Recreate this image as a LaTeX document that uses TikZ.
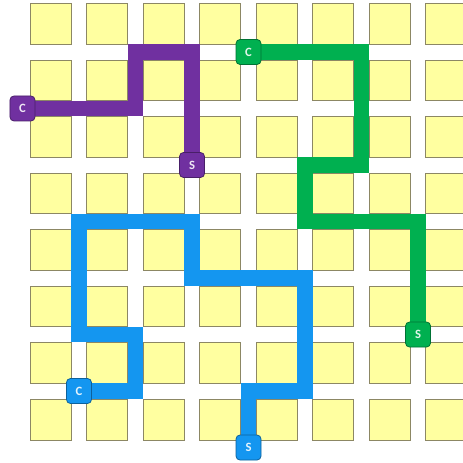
\documentclass[tikz,border=0pt]{standalone}
\usepackage{fontspec}
\setmainfont{Carlito}
\usetikzlibrary{backgrounds}
\definecolor{gcyellow}{RGB}{255,255,160}
\definecolor{gcedge}{RGB}{140,135,100}
\definecolor{gcpurple}{RGB}{112,48,160}
\definecolor{gcgreen}{RGB}{0,176,80}
\definecolor{gcblue}{RGB}{20,150,240}
\tikzset{
  gc grid/.style={
    x=42.375pt,
    y=-42.375pt,
    line join=miter
  },
  gc tile/.style={
    fill=gcyellow,
    draw=gcedge,
    line width=0.75pt
  },
  gc wire/.style={
    draw=#1,
    line width=11.5pt,
    line join=miter
  },
  gc badge/.style={
    fill=#1,
    draw=#1!65!black,
    line width=0.6pt,
    rounded corners=3pt,
    minimum size=18.75pt,
    inner sep=0pt,
    text=white!88!#1,
    font=\bfseries\fontsize{9.5}{9.5}\selectfont
  }
}

\begin{document}
\begin{tikzpicture}[gc grid]
  \clip (-0.398,0.080) rectangle (7.779,8.274);
  \foreach \i in {0,...,8}
    \foreach \j in {0,...,8}
      \coordinate (q\i\j) at (\i,\j);
  \begin{scope}[on background layer]
    \foreach \i in {0,...,7}
      \foreach \j in {0,...,7}
        \draw[gc tile] (\i+0.137,\j+0.142) rectangle (\i+0.863,\j+0.867);
  \end{scope}
  \node[gc badge=gcpurple] (pc) at (q02) {C};
  \node[gc badge=gcpurple] (ps) at (q33) {S};
  \node[gc badge=gcgreen] (gc) at (q41) {C};
  \node[gc badge=gcgreen] (gs) at (q76) {S};
  \node[gc badge=gcblue] (bc) at (q17) {C};
  \node[gc badge=gcblue] (bs) at (q48) {S};
  \begin{scope}[on background layer]
    \draw[gc wire=gcpurple] (pc) -- (q22) -- (q21) -- (q31) -- (ps);
    \draw[gc wire=gcgreen] (gc) -- (q61) -- (q63) -- (q53) -- (q54) -- (q74) -- (gs);
    \draw[gc wire=gcblue] (bc) -- (q27) -- (q26) -- (q16) -- (q14) -- (q34)
      -- (q35) -- (q55) -- (q57) -- (q47) -- (bs);
  \end{scope}
\end{tikzpicture}
\end{document}
